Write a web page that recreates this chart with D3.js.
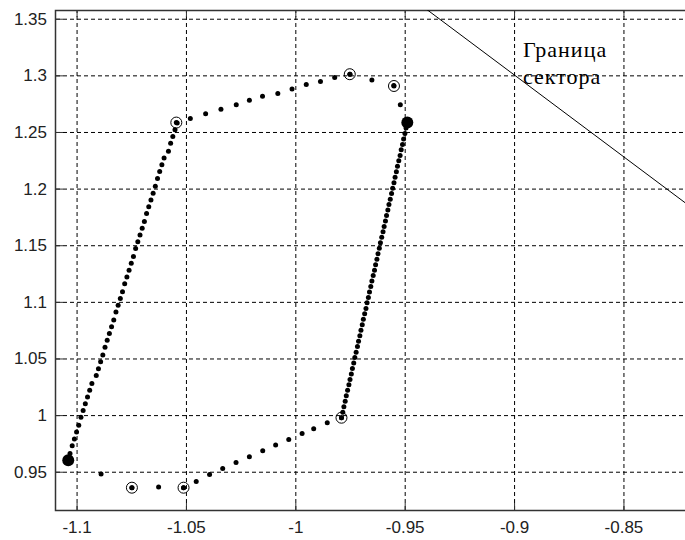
<!DOCTYPE html>
<html>
<head>
<meta charset="utf-8">
<script src="https://cdn.jsdelivr.net/npm/d3@7"></script>
<style>
body { margin: 0; background: #fff; }
.tick text { font-family: "Liberation Sans", Arial, sans-serif; font-size: 17px; fill: #222; }
</style>
</head>
<body>
<svg id="chart" width="685" height="540"></svg>
<script>
// tick values and labels
var xTicks = [-1.1, -1.05, -1, -0.95, -0.9, -0.85];
var xTickLabels = ["-1.1", "-1.05", "-1", "-0.95", "-0.9", "-0.85"];
var yTicks = [0.95, 1, 1.05, 1.1, 1.15, 1.2, 1.25, 1.3, 1.35];
var yTickLabels = ["0.95", "1", "1.05", "1.1", "1.15", "1.2", "1.25", "1.3", "1.35"];

// left (rising) branch of the trajectory
var leftX = [-1.104, -1.103, -1.102, -1.101, -1.100, -1.099, -1.098, -1.097, -1.096, -1.095,
             -1.094, -1.093, -1.091, -1.090, -1.089, -1.088, -1.087, -1.086, -1.085, -1.084,
             -1.083, -1.082, -1.081, -1.080, -1.079, -1.078, -1.077, -1.076, -1.075, -1.074,
             -1.073, -1.072, -1.071, -1.070, -1.069, -1.068, -1.067, -1.066, -1.065, -1.064,
             -1.063, -1.062, -1.061, -1.060, -1.058, -1.057, -1.056, -1.055, -1.054];
var leftY = [0.960, 0.966, 0.973, 0.979, 0.985, 0.991, 0.998, 1.004, 1.010, 1.016,
             1.022, 1.028, 1.035, 1.041, 1.047, 1.053, 1.060, 1.066, 1.072, 1.078,
             1.084, 1.091, 1.097, 1.103, 1.109, 1.116, 1.122, 1.128, 1.134, 1.140,
             1.147, 1.153, 1.159, 1.165, 1.171, 1.178, 1.184, 1.190, 1.196, 1.202,
             1.209, 1.215, 1.221, 1.227, 1.233, 1.240, 1.246, 1.252, 1.258];

// upper arc
var arcX = [-1.048, -1.041, -1.034, -1.027, -1.021, -1.015, -1.008, -1.0015, -0.995, -0.9885,
            -0.982, -0.975, -0.965, -0.955, -0.952];
var arcY = [1.262, 1.266, 1.270, 1.274, 1.278, 1.2815, 1.284, 1.288, 1.292, 1.2945,
            1.298, 1.301, 1.296, 1.291, 1.274];

// right (falling) branch
var rightX = [-0.9488, -0.9494, -0.9499, -0.9505, -0.9510, -0.9516, -0.9521, -0.9527, -0.9533, -0.9538,
              -0.9544, -0.9549, -0.9555, -0.9560, -0.9566, -0.9572, -0.9577, -0.9583, -0.9588, -0.9594,
              -0.9599, -0.9605, -0.9611, -0.9616, -0.9622, -0.9627, -0.9633, -0.9638, -0.9644, -0.9650,
              -0.9655, -0.9661, -0.9666, -0.9672, -0.9677, -0.9683, -0.9689, -0.9694, -0.9700, -0.9705,
              -0.9711, -0.9716, -0.9722, -0.9728, -0.9733, -0.9739, -0.9744, -0.9750, -0.9755, -0.9761,
              -0.9767, -0.9772, -0.9778, -0.9783, -0.9789];
var rightY = [1.2583, 1.2535, 1.2486, 1.2438, 1.2390, 1.2342, 1.2293, 1.2245, 1.2197, 1.2149,
              1.2100, 1.2052, 1.2004, 1.1956, 1.1907, 1.1859, 1.1811, 1.1763, 1.1714, 1.1666,
              1.1618, 1.1570, 1.1521, 1.1473, 1.1425, 1.1377, 1.1328, 1.1280, 1.1232, 1.1184,
              1.1135, 1.1087, 1.1039, 1.0991, 1.0942, 1.0894, 1.0846, 1.0798, 1.0749, 1.0701,
              1.0653, 1.0605, 1.0556, 1.0508, 1.0460, 1.0412, 1.0363, 1.0315, 1.0267, 1.0219,
              1.0170, 1.0122, 1.0074, 1.0026, 0.9977];

// lower arc
var lowX = [-0.9854, -0.9916, -0.9969, -1.0030, -1.0090, -1.0149, -1.0210, -1.0271, -1.0332, -1.0392,
            -1.0453, -1.0511, -1.0625, -1.0747, -1.0888];
var lowY = [0.9933, 0.9880, 0.9838, 0.9785, 0.9735, 0.9686, 0.9633, 0.9582, 0.9529, 0.9476,
            0.9414, 0.9359, 0.9364, 0.9359, 0.9479];

// ringed points
var ringX = [-1.0544, -0.9751, -0.9549, -0.9789, -1.0511, -1.0747];
var ringY = [1.2583, 1.3010, 1.2906, 0.9977, 0.9359, 0.9359];

// large points
var bigX = [-1.1038, -0.9488];
var bigY = [0.9602, 1.2583];

// sector boundary line
var sectorX = [-0.96, -0.80];
var sectorY = [1.3872, 1.156];
var sectorLabel = ["Граница", "сектора"];

var svg = d3.select("#chart");
var plotL = 56, plotR = 686, plotT = 10, plotB = 510;

var x = d3.scaleLinear().domain([-1.1094, -0.8214]).range([plotL, plotR]);
var y = d3.scaleLinear().domain([0.9162, 1.3577]).range([plotB, plotT]);

svg.append("defs").append("clipPath").attr("id", "plotclip")
    .append("rect").attr("x", plotL).attr("y", plotT)
    .attr("width", plotR - plotL).attr("height", plotB - plotT);

// grid
svg.append("g")
    .attr("transform", "translate(0," + plotB + ")")
    .call(d3.axisBottom(x).tickValues(xTicks).tickSize(-(plotB - plotT)).tickFormat(""))
    .call(function (g) {
        g.select(".domain").remove();
        g.selectAll("line").attr("stroke", "#000").attr("stroke-dasharray", "4,3");
    });
svg.append("g")
    .attr("transform", "translate(" + plotL + ",0)")
    .call(d3.axisLeft(y).tickValues(yTicks).tickSize(-(plotR - plotL)).tickFormat(""))
    .call(function (g) {
        g.select(".domain").remove();
        g.selectAll("line").attr("stroke", "#000").attr("stroke-dasharray", "4,3");
    });

// axes with inward ticks
svg.append("g")
    .attr("transform", "translate(0," + plotB + ")")
    .call(d3.axisBottom(x).tickValues(xTicks).tickSizeInner(-7).tickSizeOuter(0).tickPadding(11)
        .tickFormat(function (d, i) { return xTickLabels[i]; }))
    .call(function (g) { g.select(".domain").remove(); g.selectAll("line").attr("stroke", "#333"); });
svg.append("g")
    .attr("transform", "translate(0," + plotT + ")")
    .call(d3.axisTop(x).tickValues(xTicks).tickSizeInner(-7).tickSizeOuter(0).tickFormat(""))
    .call(function (g) { g.select(".domain").remove(); g.selectAll("line").attr("stroke", "#333"); });
svg.append("g")
    .attr("transform", "translate(" + plotL + ",0)")
    .call(d3.axisLeft(y).tickValues(yTicks).tickSizeInner(-7).tickSizeOuter(0).tickPadding(9)
        .tickFormat(function (d, i) { return yTickLabels[i]; }))
    .call(function (g) { g.select(".domain").remove(); g.selectAll("line").attr("stroke", "#333"); });

// frame
svg.append("path")
    .attr("d", "M" + (plotR + 1) + "," + (plotT + 0.5) + "H" + (plotL - 0.5) + "V" + (plotB + 0.5) + "H" + (plotR + 1))
    .attr("fill", "none").attr("stroke", "#333").attr("stroke-width", 1.5);

var plot = svg.append("g").attr("clip-path", "url(#plotclip)");

// sector boundary
plot.append("line")
    .attr("x1", x(sectorX[0])).attr("y1", y(sectorY[0]))
    .attr("x2", x(sectorX[1])).attr("y2", y(sectorY[1]))
    .attr("stroke", "#000").attr("stroke-width", 1);

plot.selectAll("text.label")
    .data(sectorLabel)
    .enter().append("text")
    .attr("class", "label")
    .attr("x", 523)
    .attr("y", function (d, i) { return 57 + i * 27; })
    .style("font-family", "'Liberation Serif', 'Times New Roman', serif")
    .style("font-size", "22px")
    .style("letter-spacing", "1px")
    .style("fill", "#000")
    .text(function (d) { return d; });

// trajectory dots
function pts(xs, ys) {
    return xs.map(function (d, i) { return [d, ys[i]]; });
}
var dots = [].concat(pts(leftX, leftY), pts(arcX, arcY), pts(rightX, rightY), pts(lowX, lowY));

plot.selectAll("circle.dot")
    .data(dots)
    .enter().append("circle")
    .attr("class", "dot")
    .attr("cx", function (d) { return x(d[0]); })
    .attr("cy", function (d) { return y(d[1]); })
    .attr("r", 2.5)
    .attr("fill", "#000");

plot.selectAll("circle.ring")
    .data(pts(ringX, ringY))
    .enter().append("circle")
    .attr("class", "ring")
    .attr("cx", function (d) { return x(d[0]); })
    .attr("cy", function (d) { return y(d[1]); })
    .attr("r", 5.5)
    .attr("fill", "none")
    .attr("stroke", "#000")
    .attr("stroke-width", 1);
plot.selectAll("circle.ringdot")
    .data(pts(ringX, ringY))
    .enter().append("circle")
    .attr("class", "ringdot")
    .attr("cx", function (d) { return x(d[0]); })
    .attr("cy", function (d) { return y(d[1]); })
    .attr("r", 2.5)
    .attr("fill", "#000");

plot.selectAll("circle.big")
    .data(pts(bigX, bigY))
    .enter().append("circle")
    .attr("class", "big")
    .attr("cx", function (d) { return x(d[0]); })
    .attr("cy", function (d) { return y(d[1]); })
    .attr("r", 6)
    .attr("fill", "#000");
</script>
</body>
</html>
